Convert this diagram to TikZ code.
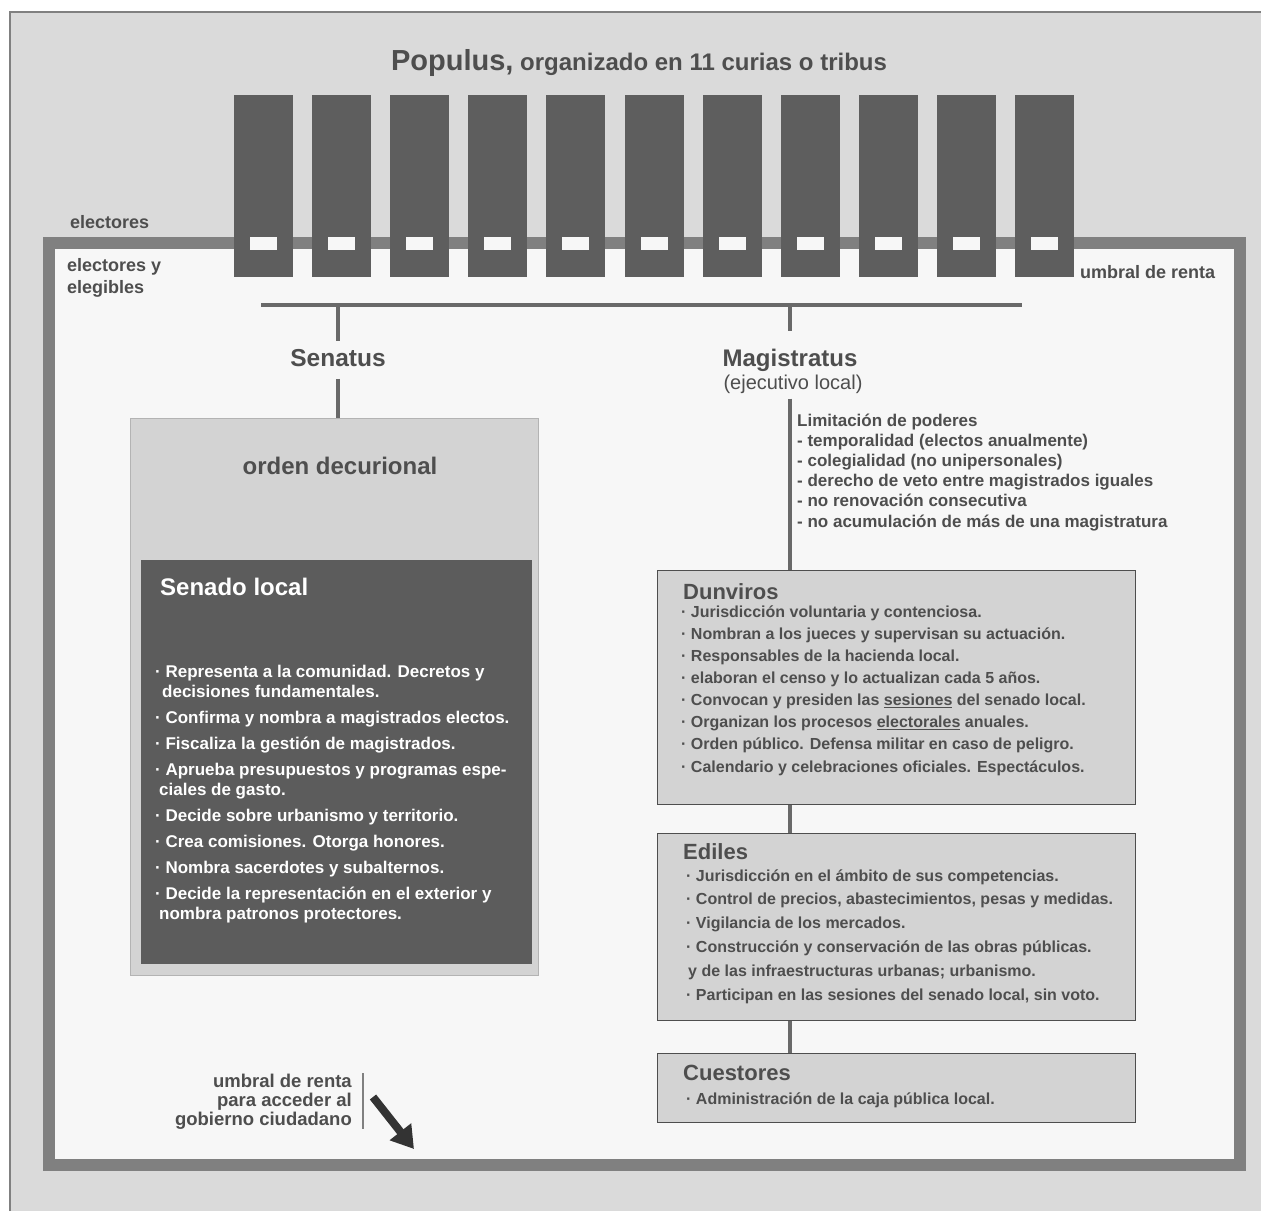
\documentclass[tikz,border=0pt]{standalone}
\usepackage{fontspec}
\setmainfont{Liberation Sans}
\usetikzlibrary{arrows.meta}

\definecolor{pagegray}{RGB}{218,218,218}
\definecolor{framegray}{RGB}{128,128,128}
\definecolor{paper}{RGB}{247,247,247}
\definecolor{curiagray}{RGB}{94,94,94}
\definecolor{inkgray}{RGB}{78,78,78}
\definecolor{boxgray}{RGB}{211,211,211}
\definecolor{senadogray}{RGB}{92,92,92}
\definecolor{wiregray}{RGB}{105,105,105}

\begin{document}
\begin{tikzpicture}[x=1pt, y=-1pt, inner sep=0pt,
    ink/.style={text=inkgray, font=\bfseries\fontsize{16}{22.1}\selectfont},
    head/.style={text=inkgray, font=\bfseries\fontsize{24}{28}\selectfont},
    boxhead/.style={ink, anchor=base west, font=\bfseries\fontsize{22}{26}\selectfont},
    curia/.style={fill=curiagray, minimum width=59, minimum height=182},
    slot/.style={fill=paper, minimum width=27, minimum height=13},
    wire/.style={draw=wiregray, line width=3.5},
    magbox/.style={draw=inkgray, line width=1.2, fill=boxgray, anchor=north west, minimum width=478},
    item/.style={ink, anchor=base west, align=left}] % multi-line nodes: base = last line
  \useasboundingbox (0,0) rectangle (1261,1211);
  \fill[white] (0,0) rectangle (1261,1211); % page
  \fill[pagegray] (10,12) rectangle (1261,1211); % background
  \draw[framegray, line width=1.5] (10,1211) -- (10,12) -- (1261,12); % outer edge
  \draw[framegray, line width=12, fill=paper] (48.5,242.5) rectangle (1240,1165); % umbral de renta frame
  \foreach \i in {1,...,11} {
    \node[curia] (curia\i) at ({263.5+78.1*(\i-1)},186) {}; % curia
    \node[slot] (slot\i) at ({263.5+78.1*(\i-1)},243.5) {}; % paso del umbral
  }
  \node[text=inkgray, font=\bfseries] (populus) at (639,63) {\fontsize{29}{34}\selectfont Populus,\fontsize{24}{28}\selectfont\ organizado en 11 curias o tribus}; % title
  \node[ink, anchor=west, font=\bfseries\fontsize{18}{22}\selectfont] (electores) at (70,222) {electores};
  \node[item, font=\bfseries\fontsize{18}{22}\selectfont] (elegibles) at (67,293) {electores y\\elegibles};
  \node[ink, anchor=west, font=\bfseries\fontsize{18}{22}\selectfont] (umbral) at (1080,272) {umbral de renta};

  \coordinate (hleft) at (261,305);
  \coordinate (hright) at (1022,305);
  \draw[wire, line width=4] (hleft) -- (hright); % reparto

  % Senatus
  \node[head, font=\bfseries\fontsize{24.5}{28}\selectfont] (senatus) at (338,358) {Senatus};
  \draw[wire, shorten >=8] (senatus |- hleft) -- (senatus.north);
  \node[draw=framegray!60, fill=boxgray, minimum width=408, minimum height=557, anchor=north west] (orden) at (130,418) {};
  \draw[wire, shorten <=12] (senatus.south) -- (senatus |- orden.north);
  \node[head] (ordenT) at (340,466) {orden decurional};
  \node[fill=senadogray, minimum width=391, minimum height=404, anchor=north west] (senado) at (141,560) {};
  \node[anchor=base west, text=white, font=\bfseries\fontsize{24}{28}\selectfont] (senadoT) at (160,595) {Senado local};
  \node[anchor=base west, align=left, text=white, font=\bfseries\fontsize{17}{20}\selectfont] (senadoL) at (155,919) {%
    · Representa a la comunidad. Decretos y\\\hspace*{7pt}decisiones fundamentales.\\[6pt]
    · Confirma y nombra a magistrados electos.\\[6pt]
    · Fiscaliza la gestión de magistrados.\\[6pt]
    · Aprueba presupuestos y programas espe-\\\hspace*{4pt}ciales de gasto.\\[6pt]
    · Decide sobre urbanismo y territorio.\\[6pt]
    · Crea comisiones. Otorga honores.\\[6pt]
    · Nombra sacerdotes y subalternos.\\[6pt]
    · Decide la representación en el exterior y\\\hspace*{4pt}nombra patronos protectores.};

  % Magistratus
  \node[head] (magis) at (790,360) {Magistratus};
  \node[text=inkgray, font=\fontsize{20}{24}\selectfont] (ejec) at (793,384) {(ejecutivo local)};
  \draw[wire, shorten >=18] (magis |- hleft) -- (magis.north);
  \node[item, font=\bfseries\fontsize{17}{20.2}\selectfont] (limites) at (797,527) {Limitación de poderes\\- temporalidad (electos anualmente)\\- colegialidad (no unipersonales)\\- derecho de veto entre magistrados iguales\\- no renovación consecutiva\\- no acumulación de más de una magistratura};
  \node[magbox, minimum height=234] (dunv) at (657,570) {};
  \draw[wire, shorten <=5] (ejec.south -| magis) -- (dunv.north -| magis);
  \node[boxhead] (dunvT) at (683,599) {Dunviros};
  \node[item] (dunvL) at (681,772) {%
    · Jurisdicción voluntaria y contenciosa.\\
    · Nombran a los jueces y supervisan su actuación.\\
    · Responsables de la hacienda local.\\
    · elaboran el censo y lo actualizan cada 5 años.\\
    · Convocan y presiden las \underline{sesiones} del senado local.\\
    · Organizan los procesos \underline{electorales} anuales.\\
    · Orden público. Defensa militar en caso de peligro.\\
    · Calendario y celebraciones oficiales. Espectáculos.};
  \node[magbox, minimum height=187] (edil) at (657,833) {};
  \draw[wire] (dunv.south -| magis) -- (edil.north -| magis);
  \node[boxhead] (edilT) at (683,859) {Ediles};
  \node[item, font=\bfseries\fontsize{16}{23.8}\selectfont] (edilL) at (686,1000) {%
    · Jurisdicción en el ámbito de sus competencias.\\
    · Control de precios, abastecimientos, pesas y medidas.\\
    · Vigilancia de los mercados.\\
    · Construcción y conservación de las obras públicas.\\
    \hspace*{2pt}y de las infraestructuras urbanas; urbanismo.\\
    · Participan en las sesiones del senado local, sin voto.};
  \node[magbox, minimum height=69] (quaest) at (657,1053) {};
  \draw[wire] (edil.south -| magis) -- (quaest.north -| magis);
  \node[boxhead] (quaestT) at (683,1080) {Cuestores};
  \node[item] (quaestL) at (686,1104) {· Administración de la caja pública local.};

  % umbral para el gobierno
  \node[ink, anchor=base east, align=right, font=\bfseries\fontsize{18.5}{19}\selectfont] (umbralB) at (352,1125) {umbral de renta\\para acceder al\\gobierno ciudadano};
  \draw[framegray, line width=1.5] ([xshift=11pt]umbralB.north east) -- ([xshift=11pt]umbralB.south east);
  \coordinate (arrowtail) at (373,1097);
  \coordinate (arrowtip) at (414,1149);
  \draw[draw=black!80, line width=8, -{Triangle[length=22pt,width=26pt]}] (arrowtail) -- (arrowtip);
\end{tikzpicture}
\end{document}
